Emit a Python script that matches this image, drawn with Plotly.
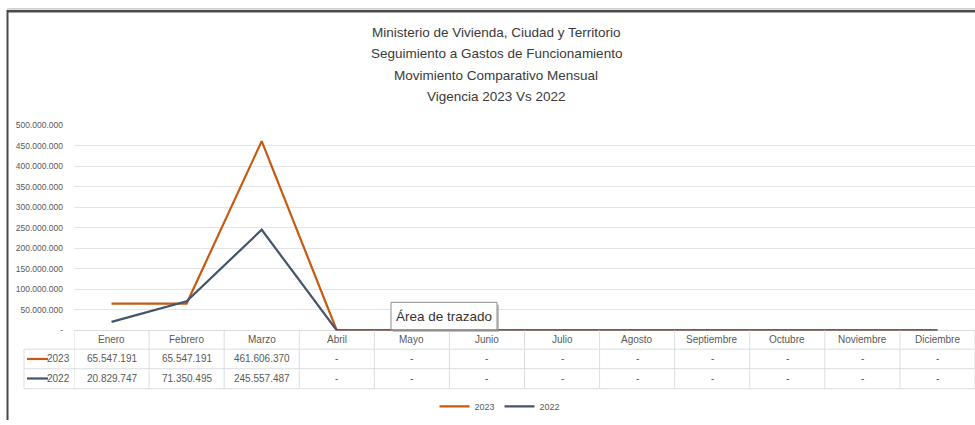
import plotly.graph_objects as go

# ---------------- data ----------------
months = ["Enero", "Febrero", "Marzo", "Abril", "Mayo", "Junio", "Julio",
          "Agosto", "Septiembre", "Octubre", "Noviembre", "Diciembre"]
series_names = ["2023", "2022"]
values_2023 = [65547191, 65547191, 461606370, 0, 0, 0, 0, 0, 0, 0, 0, 0]
values_2022 = [20829747, 71350495, 245557487, 0, 0, 0, 0, 0, 0, 0, 0, 0]
y_tickvals = [0, 50e6, 100e6, 150e6, 200e6, 250e6, 300e6, 350e6, 400e6, 450e6, 500e6]
title_lines = ["Ministerio de Vivienda, Ciudad y Territorio",
               "Seguimiento a Gastos de Funcionamiento",
               "Movimiento Comparativo Mensual",
               "Vigencia 2023 Vs 2022"]
tooltip_text = "Área de trazado"

colors = ["#C55A11", "#44546A"]
FONT = "Liberation Sans Narrow, Arial Narrow, Liberation Sans, Arial, sans-serif"
W, H = 975, 425


def fmt(v):
    return "-" if v == 0 else f"{int(v):,}".replace(",", ".")


def px(x):
    return x / W


def py(y):
    return 1 - y / H


series_values = [values_2023, values_2022]

fig = go.Figure()
for name, vals, col in zip(series_names, series_values, colors):
    fig.add_trace(go.Scatter(x=months, y=vals, name=name, mode="lines",
                             line=dict(color=col, width=2.2)))

shapes = []
annotations = []
GRID = "#DADDE2"

row_bot = 393
key_left = 24

for yy in [352.5, 372.5, row_bot]:
    shapes.append(dict(type="line", xref="paper", yref="paper",
                       x0=px(key_left), x1=1, y0=py(yy), y1=py(yy),
                       line=dict(color=GRID, width=1)))
for i in range(len(months) + 1):
    shapes.append(dict(type="line", xref="x", yref="paper",
                       x0=i - 0.5, x1=i - 0.5, y0=py(333.3), y1=py(row_bot),
                       line=dict(color=GRID, width=1)))
shapes.append(dict(type="line", xref="paper", yref="paper",
                   x0=px(key_left), x1=px(key_left), y0=py(352.5), y1=py(row_bot),
                   line=dict(color=GRID, width=1)))

TFONT = dict(family=FONT, size=10, color="#595959")
for m in months:
    annotations.append(dict(x=m, xref="x", y=py(342.5), yref="paper", text=m,
                            showarrow=False, font=TFONT, xanchor="center", yanchor="middle"))
for r, (name, vals, col) in enumerate(zip(series_names, series_values, colors)):
    yc = py(362.5 + 20 * r)
    for m, v in zip(months, vals):
        annotations.append(dict(x=m, xref="x", y=yc, yref="paper", text=fmt(v),
                                showarrow=False, font=TFONT, xanchor="center", yanchor="middle"))
    shapes.append(dict(type="line", xref="paper", yref="paper",
                       x0=px(27), x1=px(48), y0=yc, y1=yc,
                       line=dict(color=col, width=2.2)))
    annotations.append(dict(x=px(72), xref="paper", y=yc, yref="paper", text=name,
                            showarrow=False, font=TFONT, xanchor="right", yanchor="middle"))

for k, t in enumerate(title_lines):
    annotations.append(dict(x=px(496), xref="paper", y=py(28 + 22 * k), yref="paper", text=t,
                            showarrow=False, font=dict(family=FONT, size=13.5, color="#3A3A3A"),
                            xanchor="center", yanchor="middle"))

shapes.append(dict(type="rect", xref="paper", yref="paper",
                   x0=px(393), x1=px(499), y0=py(335), y1=py(307),
                   fillcolor="#9A9A9A", line=dict(width=0), opacity=0.6))
shapes.append(dict(type="rect", xref="paper", yref="paper",
                   x0=px(391), x1=px(497), y0=py(332.5), y1=py(304.5),
                   fillcolor="white", line=dict(color="#8C8C8C", width=1)))
annotations.append(dict(x=px(444), xref="paper", y=py(318.5), yref="paper", text=tooltip_text,
                        showarrow=False, font=dict(family=FONT, size=13.5, color="#333333"),
                        xanchor="center", yanchor="middle"))

shapes.append(dict(type="line", xref="paper", yref="paper", x0=px(7), x1=1,
                   y0=py(6.5), y1=py(6.5), line=dict(color="#4A4A4A", width=2.5)))
shapes.append(dict(type="line", xref="paper", yref="paper", x0=px(7), x1=1,
                   y0=py(4), y1=py(4), line=dict(color="#B0B0B0", width=1)))
shapes.append(dict(type="line", xref="paper", yref="paper", x0=px(7.5), x1=px(7.5),
                   y0=py(5), y1=0, line=dict(color="#4A4A4A", width=2)))

fig.update_layout(
    width=W, height=H,
    margin=dict(l=0, r=0, t=0, b=0),
    paper_bgcolor="white", plot_bgcolor="white",
    showlegend=True,
    legend=dict(orientation="h", x=px(500), xanchor="center", y=py(411), yanchor="middle",
                font=dict(family=FONT, size=9, color="#595959"),
                itemwidth=30, tracegroupgap=0, bgcolor="rgba(0,0,0,0)"),
    xaxis=dict(domain=[px(74), 1], type="category", range=[-0.5, 11.5],
               showticklabels=False, showgrid=False, zeroline=False, showline=False,
               fixedrange=True),
    yaxis=dict(domain=[py(333.3), py(123.3)], range=[0, 500e6],
               tickvals=y_tickvals, ticktext=[fmt(v) for v in y_tickvals],
               tickfont=dict(family=FONT, size=8.5, color="#595959"),
               showgrid=True, gridcolor="#E2E4E8", gridwidth=1,
               zeroline=True, zerolinecolor=GRID, zerolinewidth=1,
               showline=False, ticks="", ticklabelstandoff=10, fixedrange=True),
    shapes=shapes, annotations=annotations,
)

fig.write_html(
    "out.html",
    config={"displayModeBar": False},
    post_script=("document.body.style.margin='0';"
                 "var d=document.getElementsByClassName('plotly-graph-div')[0];"
                 "d.style.position='absolute';d.style.top='0px';d.style.left='0px';"),
)
